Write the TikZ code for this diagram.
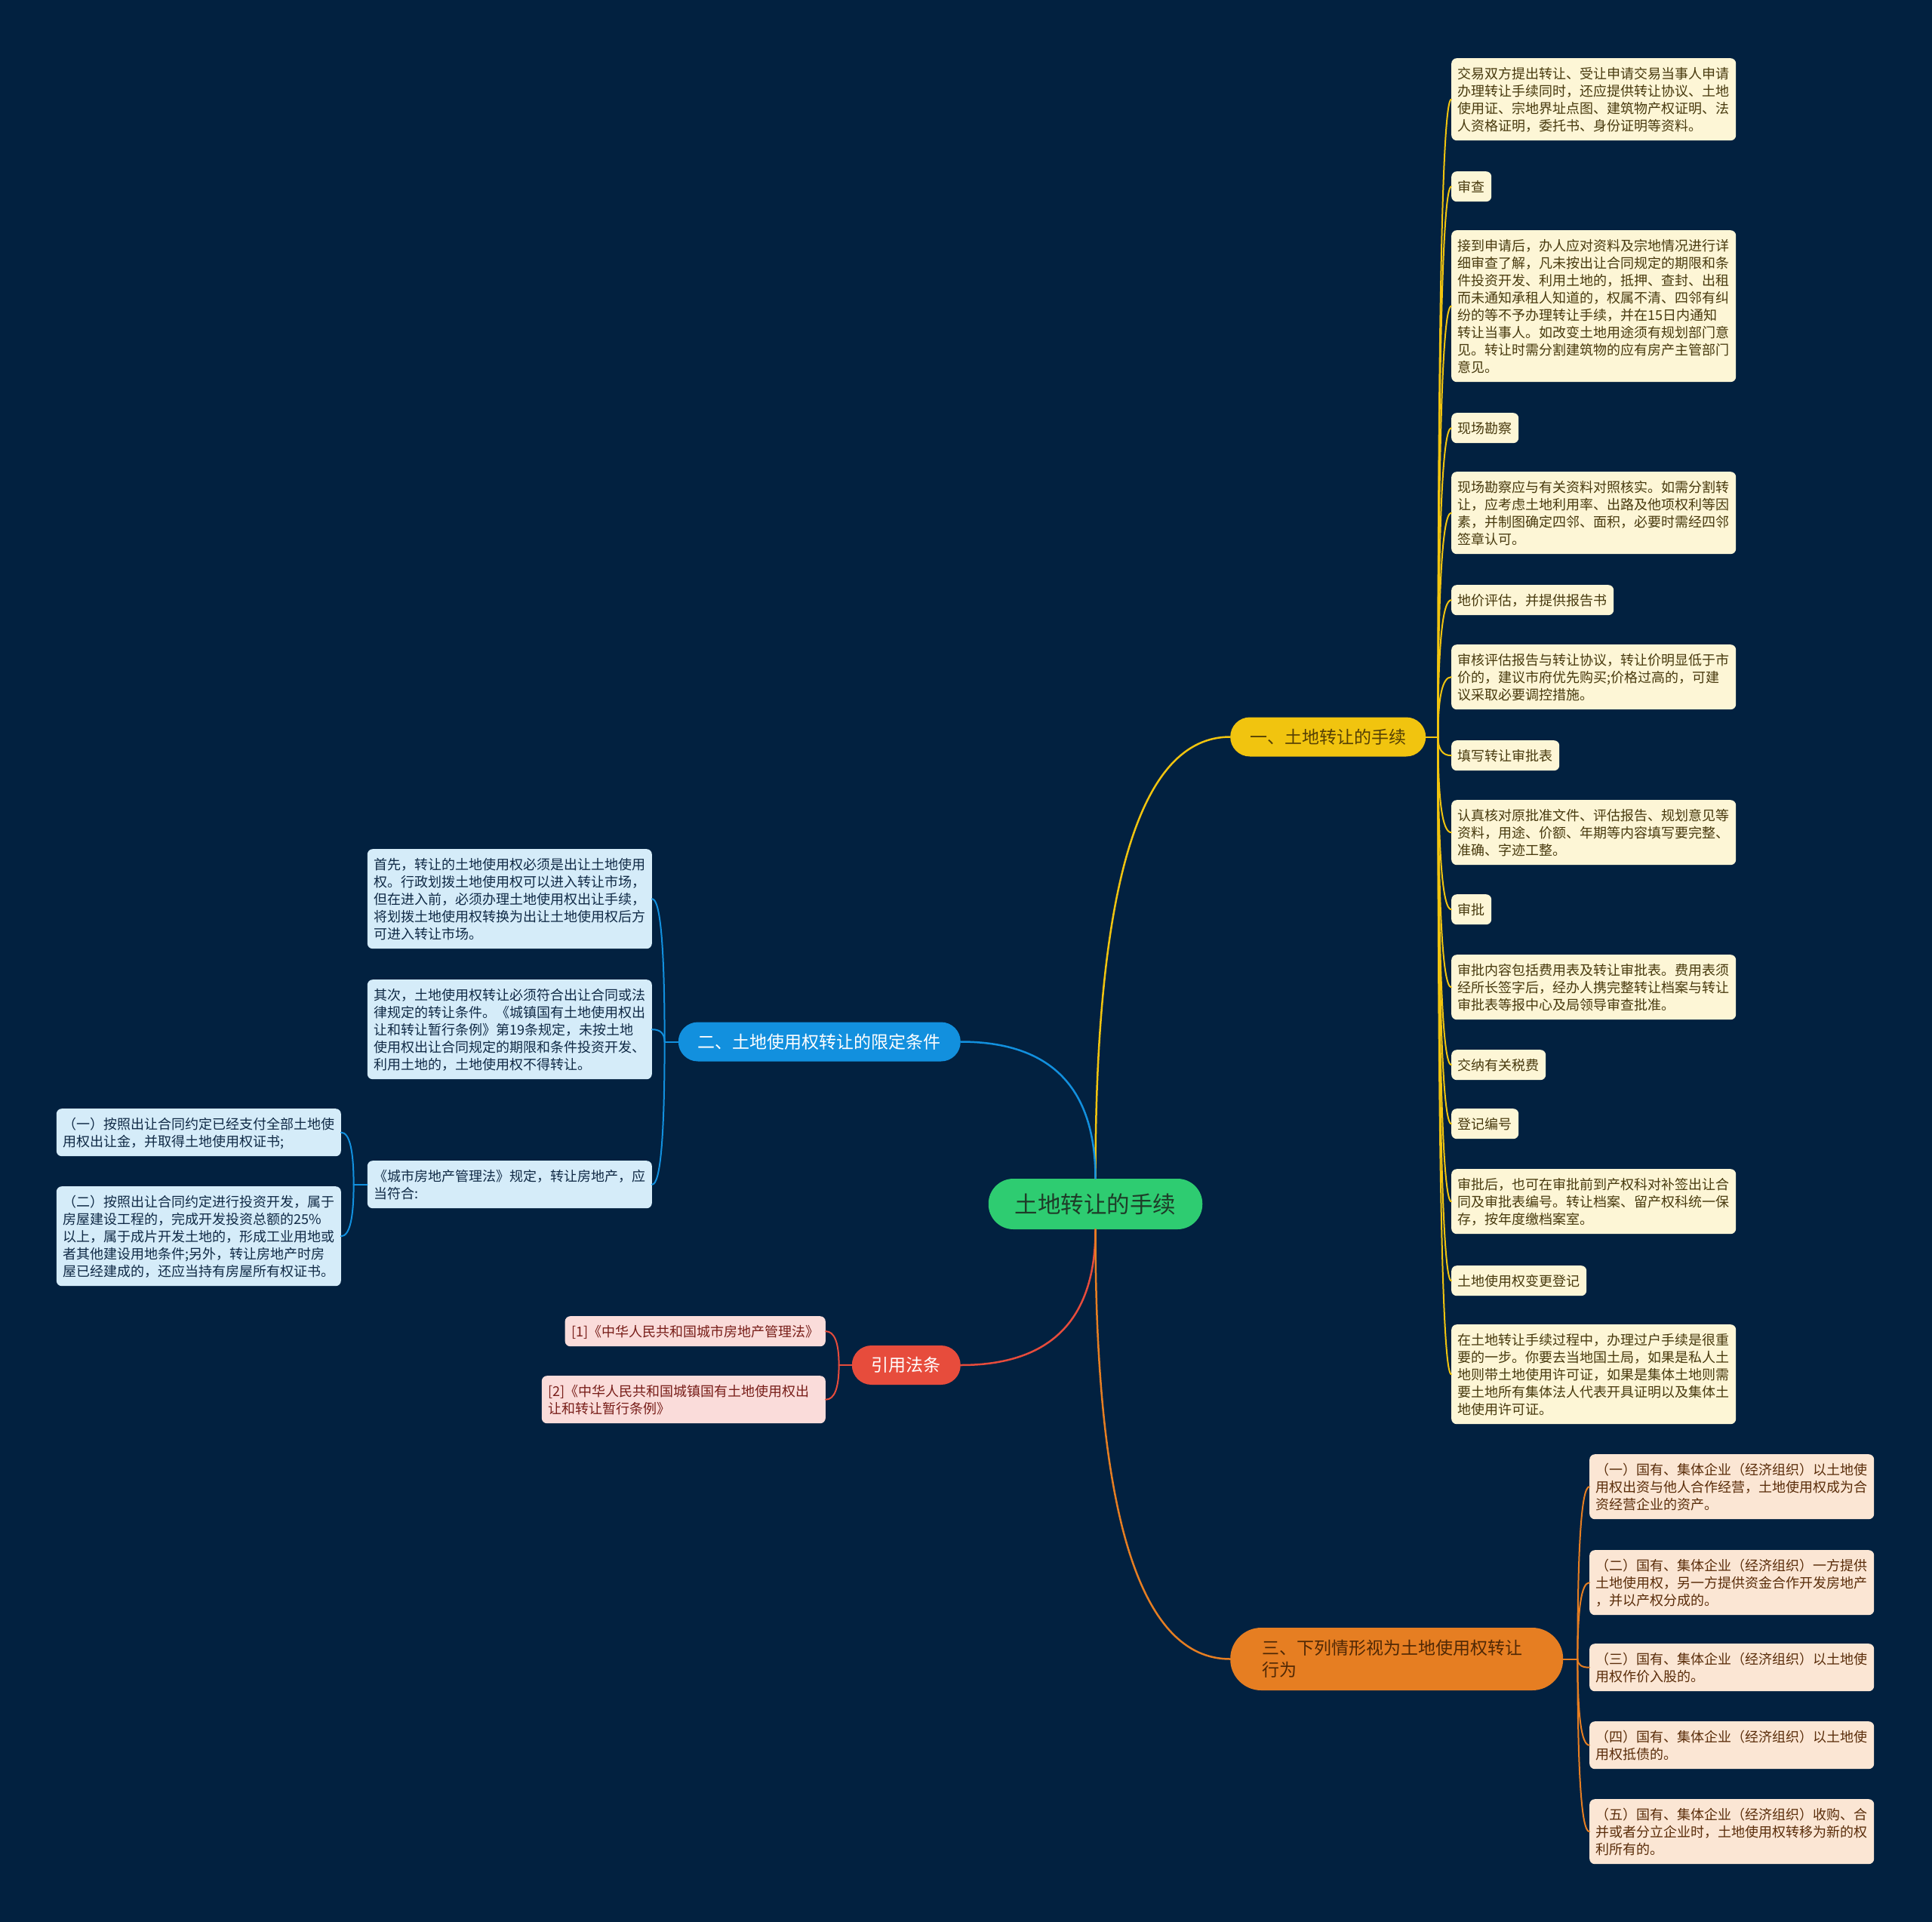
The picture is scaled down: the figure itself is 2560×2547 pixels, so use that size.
\documentclass[tikz,border=0pt]{standalone}
\usepackage{fontspec}
\newfontfamily\cjk{Noto Sans CJK SC}
\usetikzlibrary{calc}
\definecolor{bg}{RGB}{2,33,64}
\definecolor{rootf}{RGB}{46,204,113}
\definecolor{roott}{RGB}{30,60,40}
\definecolor{ylc}{RGB}{241,196,15}
\definecolor{ylt}{RGB}{85,64,5}
\definecolor{ylf}{RGB}{253,246,214}
\definecolor{ylx}{RGB}{72,58,14}
\definecolor{blc}{RGB}{18,144,222}
\definecolor{blf}{RGB}{213,236,249}
\definecolor{blx}{RGB}{16,42,70}
\definecolor{rlc}{RGB}{231,76,60}
\definecolor{rlf}{RGB}{250,220,218}
\definecolor{rlx}{RGB}{120,30,25}
\definecolor{olc}{RGB}{230,126,34}
\definecolor{olt}{RGB}{80,40,5}
\definecolor{olf}{RGB}{251,230,212}
\definecolor{olx}{RGB}{90,45,10}
\newcommand\lst{\vrule width 0pt height 18.8pt depth 4.2pt\relax}
\newcommand\bst{\vrule width 0pt height 20pt depth 2.5pt\relax}
\newcommand\fst{\vrule width 0pt height 23.2pt depth 5.8pt\relax}
\newcommand\rst{\vrule width 0pt height 25pt depth 1.8pt\relax}
\newcommand\qc[3]{\draw[#1] (#2) .. controls ($(#2)!0.6667!(#2|-#3)$) and ($(#3)!0.6667!(#2|-#3)$) .. (#3);}
\tikzset{
  leaf/.style={rounded corners=7pt, align=left, inner xsep=8.5pt, inner ysep=8.5pt,
    font=\cjk\fontsize{18pt}{23pt}\selectfont},
  yleaf/.style={leaf, fill=ylf, text=ylx, anchor=north west},
  bleaf/.style={leaf, fill=blf, text=blx, anchor=north east},
  rleaf/.style={leaf, fill=rlf, text=rlx, anchor=north east},
  oleaf/.style={leaf, fill=olf, text=olx, anchor=north west},
  branch/.style={rounded corners=25.9pt, minimum height=52pt, inner xsep=26pt, inner ysep=0pt,
    font=\cjk\fontsize{23pt}{29pt}\selectfont, execute at begin node=\bst},
  rootnode/.style={rounded corners=33pt, minimum height=67pt, inner xsep=35pt, inner ysep=0pt,
    fill=rootf, text=roott, font=\cjk\fontsize{30.5pt}{36pt}\selectfont, execute at begin node=\rst},
  mainline/.style={line width=2.5pt, line cap=round},
  subline/.style={line width=2pt, line cap=round},
}
\begin{document}
\begin{tikzpicture}[x=1pt,y=-1pt]
\fill[bg] (0,0) rectangle (2560,2547);
\useasboundingbox (0,0) rectangle (2560,2547);

% root and branches
\node[rootnode] (root) at (1451.5,1595.5) {土地转让的手续};
\node[branch, fill=ylc, text=ylt, anchor=west] (b1) at (1630,976.5) {一、土地转让的手续};
\node[branch, fill=blc, text=white, anchor=east] (b2) at (1273,1380.5) {二、土地使用权转让的限定条件};
\node[branch, fill=rlc, text=white, anchor=east] (b3) at (1273,1809) {引用法条};
\node[rounded corners=41pt, minimum height=83pt, text width=357pt, align=left, inner xsep=42pt, inner ysep=0pt,
  fill=olc, text=olt, font=\cjk\fontsize{23pt}{29pt}\selectfont, execute at begin node=\fst, execute at end node=\fst,
  anchor=west] (b4) at (1630,2198.5) {三、下列情形视为土地使用权转让\\行为};

% branch 1 leaves
\node[yleaf] (L1) at (1923,77) {\lst 交易双方提出转让、受让申请交易当事人申请\\办理转让手续同时，还应提供转让协议、土地\\使用证、宗地界址点图、建筑物产权证明、法\\人资格证明，委托书、身份证明等资料。\lst};
\node[yleaf] (L2) at (1923,227) {\lst 审查\lst};
\node[yleaf] (L3) at (1923,305) {\lst 接到申请后，办人应对资料及宗地情况进行详\\细审查了解，凡未按出让合同规定的期限和条\\件投资开发、利用土地的，抵押、查封、出租\\而未通知承租人知道的，权属不清、四邻有纠\\纷的等不予办理转让手续，并在15日内通知\\转让当事人。如改变土地用途须有规划部门意\\见。转让时需分割建筑物的应有房产主管部门\\意见。\lst};
\node[yleaf] (L4) at (1923,547) {\lst 现场勘察\lst};
\node[yleaf] (L5) at (1923,625) {\lst 现场勘察应与有关资料对照核实。如需分割转\\让，应考虑土地利用率、出路及他项权利等因\\素，并制图确定四邻、面积，必要时需经四邻\\签章认可。\lst};
\node[yleaf] (L6) at (1923,775) {\lst 地价评估，并提供报告书\lst};
\node[yleaf] (L7) at (1923,854) {\lst 审核评估报告与转让协议，转让价明显低于市\\价的，建议市府优先购买;价格过高的，可建\\议采取必要调控措施。\lst};
\node[yleaf] (L8) at (1923,981) {\lst 填写转让审批表\lst};
\node[yleaf] (L9) at (1923,1060) {\lst 认真核对原批准文件、评估报告、规划意见等\\资料，用途、价额、年期等内容填写要完整、\\准确、字迹工整。\lst};
\node[yleaf] (L10) at (1923,1185) {\lst 审批\lst};
\node[yleaf] (L11) at (1923,1265) {\lst 审批内容包括费用表及转让审批表。费用表须\\经所长签字后，经办人携完整转让档案与转让\\审批表等报中心及局领导审查批准。\lst};
\node[yleaf] (L12) at (1923,1391) {\lst 交纳有关税费\lst};
\node[yleaf] (L13) at (1923,1469) {\lst 登记编号\lst};
\node[yleaf] (L14) at (1923,1549) {\lst 审批后，也可在审批前到产权科对补签出让合\\同及审批表编号。转让档案、留产权科统一保\\存，按年度缴档案室。\lst};
\node[yleaf] (L15) at (1923,1677) {\lst 土地使用权变更登记\lst};
\node[yleaf] (L16) at (1923,1755) {\lst 在土地转让手续过程中，办理过户手续是很重\\要的一步。你要去当地国土局，如果是私人土\\地则带土地使用许可证，如果是集体土地则需\\要土地所有集体法人代表开具证明以及集体土\\地使用许可证。\lst};

% branch 2 leaves
\node[bleaf] (B1) at (864,1125) {\lst 首先，转让的土地使用权必须是出让土地使用\\权。行政划拨土地使用权可以进入转让市场，\\但在进入前，必须办理土地使用权出让手续，\\将划拨土地使用权转换为出让土地使用权后方\\可进入转让市场。\lst};
\node[bleaf] (B2) at (864,1298) {\lst 其次，土地使用权转让必须符合出让合同或法\\律规定的转让条件。《城镇国有土地使用权出\\让和转让暂行条例》第19条规定，未按土地\\使用权出让合同规定的期限和条件投资开发、\\利用土地的，土地使用权不得转让。\lst};
\node[bleaf] (B3) at (864,1538) {\lst 《城市房地产管理法》规定，转让房地产，应\\当符合:\lst};
\node[bleaf] (B3a) at (452,1469) {\lst （一）按照出让合同约定已经支付全部土地使\\用权出让金，并取得土地使用权证书;\lst};
\node[bleaf] (B3b) at (452,1572) {\lst （二）按照出让合同约定进行投资开发，属于\\房屋建设工程的，完成开发投资总额的25\%\\以上，属于成片开发土地的，形成工业用地或\\者其他建设用地条件;另外，转让房地产时房\\屋已经建成的，还应当持有房屋所有权证书。\lst};

% branch 3 leaves
\node[rleaf] (R1) at (1094,1744) {\lst [1]《中华人民共和国城市房地产管理法》\lst};
\node[rleaf, text width=359pt] (R2) at (1094,1823) {\lst [2]《中华人民共和国城镇国有土地使用权出\\让和转让暂行条例》\lst};

% branch 4 leaves
\node[oleaf] (O1) at (2106,1927) {\lst （一）国有、集体企业（经济组织）以土地使\\用权出资与他人合作经营，土地使用权成为合\\资经营企业的资产。\lst};
\node[oleaf] (O2) at (2106,2054) {\lst （二）国有、集体企业（经济组织）一方提供\\土地使用权，另一方提供资金合作开发房地产\\，并以产权分成的。\lst};
\node[oleaf] (O3) at (2106,2178) {\lst （三）国有、集体企业（经济组织）以土地使\\用权作价入股的。\lst};
\node[oleaf] (O4) at (2106,2281) {\lst （四）国有、集体企业（经济组织）以土地使\\用权抵债的。\lst};
\node[oleaf] (O5) at (2106,2384) {\lst （五）国有、集体企业（经济组织）收购、合\\并或者分立企业时，土地使用权转移为新的权\\利所有的。\lst};

% root connectors
\qc{mainline, draw=ylc}{root.north}{b1.west}
\qc{mainline, draw=blc}{root.north}{b2.east}
\qc{mainline, draw=rlc}{root.south}{b3.east}
\qc{mainline, draw=olc}{root.south}{b4.west}

% branch 1 connectors
\draw[subline, draw=ylc] (b1.east) -- ++(16,0) coordinate (s1);
\foreach \n in {L1,L2,L3,L4,L5,L6,L7,L8,L9,L10,L11,L12,L13,L14,L15,L16} {\qc{subline, draw=ylc}{s1}{\n.west}}

% branch 2 connectors
\draw[subline, draw=blc] (b2.west) -- ++(-18,0) coordinate (s2);
\foreach \n in {B1,B2,B3} {\qc{subline, draw=blc}{s2}{\n.east}}
\draw[subline, draw=blc] (B3.west) -- ++(-18,0) coordinate (s3);
\foreach \n in {B3a,B3b} {\qc{subline, draw=blc}{s3}{\n.east}}

% branch 3 connectors
\draw[subline, draw=rlc] (b3.west) -- ++(-17,0) coordinate (s4);
\foreach \n in {R1,R2} {\qc{subline, draw=rlc}{s4}{\n.east}}

% branch 4 connectors
\draw[subline, draw=olc] (b4.east) -- ++(19,0) coordinate (s5);
\foreach \n in {O1,O2,O3,O4,O5} {\qc{subline, draw=olc}{s5}{\n.west}}
\end{tikzpicture}
\end{document}
